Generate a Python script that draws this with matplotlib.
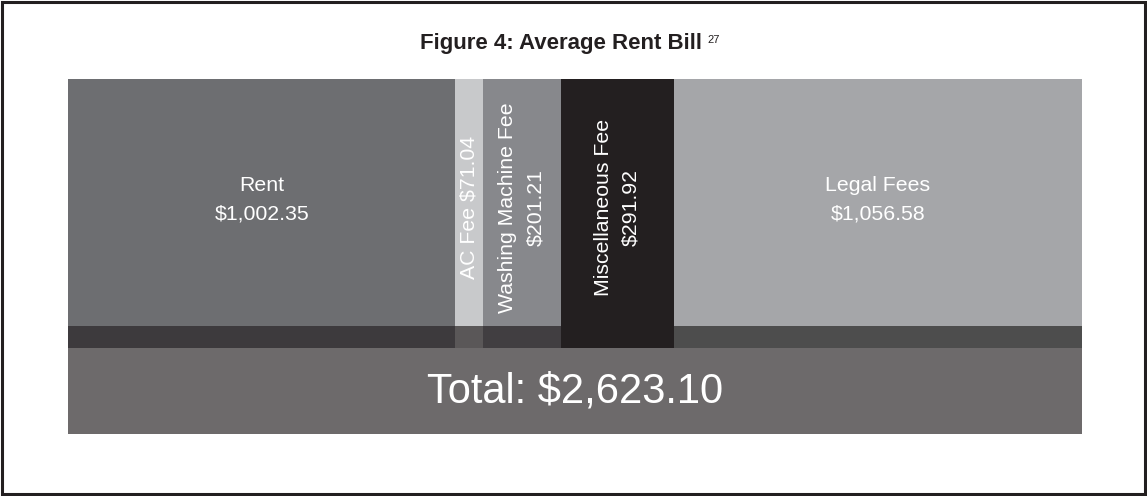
import matplotlib
matplotlib.use("Agg")
import matplotlib.pyplot as plt
from matplotlib.patches import Rectangle
import numpy as np

plt.rcParams["font.family"] = ["Liberation Sans", "DejaVu Sans"]

# data
labels = ["Rent", "AC Fee", "Washing Machine Fee", "Miscellaneous Fee", "Legal Fees"]
amounts = [1002.35, 71.04, 201.21, 291.92, 1056.58]
total = 2623.10
colors = ["#6d6e71", "#c8c9cb", "#87888c", "#231f20", "#a5a6a9"]
strip_colors = ["#3d3a3d", "#5a5758", "#413e41", "#231f20", "#4d4d4d"]
total_color = "#6d6a6b"

W, H = 1147, 496
fig = plt.figure(figsize=(W / 100, H / 100), dpi=100)

# frame around the whole figure
fig.patches.append(Rectangle((2 / W, 2 / H), 1143 / W, 492 / H, transform=fig.transFigure,
                             fill=False, edgecolor="#231f20", linewidth=2.2))

ax = fig.add_axes([68 / W, (H - 434) / H, 1014 / W, 355 / H])
ax.set_xlim(0, sum(amounts))
ax.set_ylim(0, 355)
ax.axis("off")

total_h, strip_h, seg_h = 86, 22, 247
lefts = np.concatenate([[0], np.cumsum(amounts)[:-1]])

ax.bar(0, total_h, width=sum(amounts), align="edge", color=total_color, linewidth=0)
ax.bar(lefts, strip_h, width=amounts, bottom=total_h, align="edge", color=strip_colors, linewidth=0)
ax.bar(lefts, seg_h, width=amounts, bottom=total_h + strip_h, align="edge", color=colors, linewidth=0)

seg_mid = total_h + strip_h + seg_h / 2
for i, (lab, amt) in enumerate(zip(labels, amounts)):
    cx = lefts[i] + amt / 2
    txt = f"${amt:,.2f}"
    if lab in ("Rent", "Legal Fees"):
        ax.text(cx, seg_mid + 3, f"{lab}\n{txt}", ha="center", va="center",
                color="white", fontsize=15.3, linespacing=1.6)
    elif lab == "AC Fee":
        ax.text(cx, seg_mid - 5, f"{lab} {txt}", ha="center", va="center", rotation=90,
                color="white", fontsize=15.3)
    else:
        ax.text(cx, seg_mid - 5, f"{lab}\n{txt}", ha="center", va="center", rotation=90,
                color="white", fontsize=15.3, linespacing=1.6, multialignment="center")

ax.text(sum(amounts) / 2, total_h / 2, f"Total: ${total:,.2f}", ha="center", va="center",
        color="white", fontsize=30)

fig.text(561 / W, 1 - 49 / H, "Figure 4: Average Rent Bill", ha="center", va="baseline",
         fontsize=16, fontweight="bold", color="#231f20")
fig.text(707 / W, 1 - 43 / H, "27", ha="left", va="baseline", fontsize=8, color="#231f20")

fig.savefig("out.png", dpi=100)
